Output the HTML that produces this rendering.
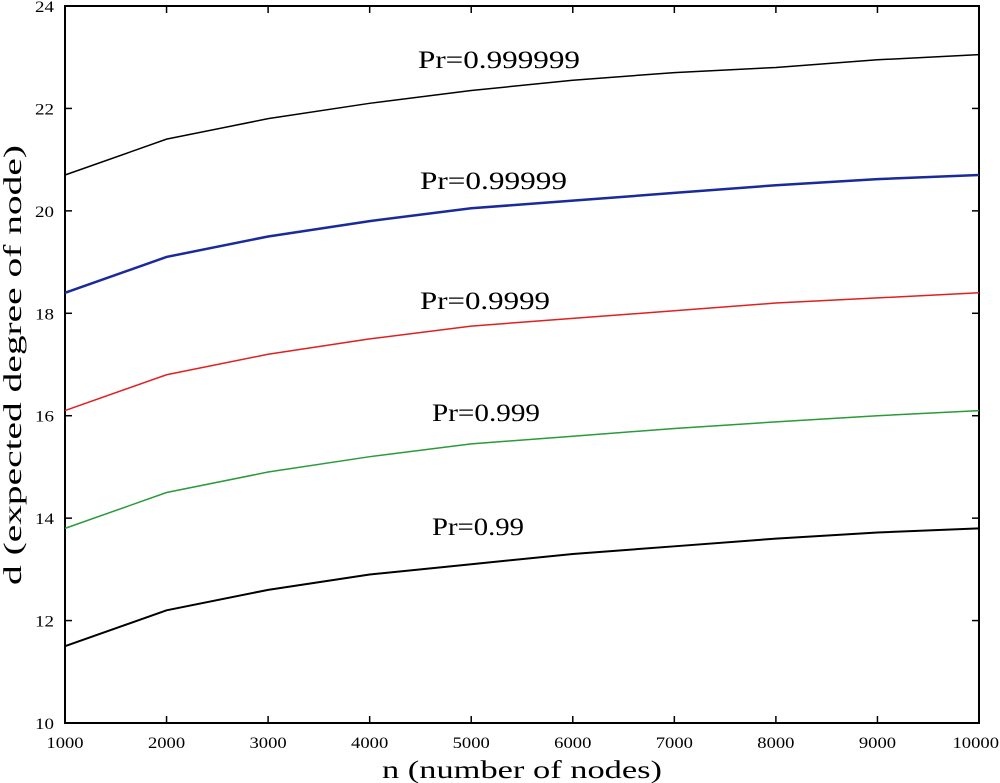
<!DOCTYPE html>
<html><head><meta charset="utf-8"><style>body{margin:0;background:#fff}svg{display:block;font-family:"Liberation Serif",serif}</style></head>
<body>
<svg id="chart" width="1000" height="783">
<rect x="65" y="6" width="914" height="717" fill="none" stroke="#000" stroke-width="2"/>
<g id="ticks"></g><g id="lines"></g><g id="labels"></g>
<text x="522" y="778" font-size="25" text-anchor="middle" textLength="280" lengthAdjust="spacingAndGlyphs">n (number of nodes)</text>
<text transform="translate(21,365) rotate(-90)" font-size="25" text-anchor="middle" textLength="440" lengthAdjust="spacingAndGlyphs">d (expected degree of node)</text>
</svg>
<script>
const xValues=[1000,2000,3000,4000,5000,6000,7000,8000,9000,10000];
const s1=[11.5,12.2,12.6,12.9,13.1,13.3,13.45,13.6,13.72,13.8];
const s2=[13.8,14.5,14.9,15.2,15.45,15.6,15.75,15.88,16.0,16.1];
const s3=[16.1,16.8,17.2,17.5,17.75,17.9,18.05,18.2,18.3,18.4];
const s4=[18.4,19.1,19.5,19.8,20.05,20.2,20.35,20.5,20.62,20.7];
const s5=[20.7,21.4,21.8,22.1,22.35,22.55,22.7,22.8,22.95,23.05];
const seriesNames=["Pr=0.99","Pr=0.999","Pr=0.9999","Pr=0.99999","Pr=0.999999"];
const xTicks=[1000,2000,3000,4000,5000,6000,7000,8000,9000,10000];
const yTicks=[10,12,14,16,18,20,22,24];
const NS="http://www.w3.org/2000/svg";
const X=v=>65+(v-1000)/9000*914, Y=v=>723-(v-10)/14*717;
function mk(t,a,p){const e=document.createElementNS(NS,t);for(const k in a)e.setAttribute(k,a[k]);p.appendChild(e);return e;}
const tg=document.getElementById('ticks');
xTicks.forEach(v=>{let x=X(v);
mk('line',{x1:x,x2:x,y1:723,y2:716,stroke:'#000','stroke-width':1.5},tg);
mk('line',{x1:x,x2:x,y1:6,y2:13,stroke:'#000','stroke-width':1.5},tg);
const len=String(v).length*9.3;
if(x+len/2>999)x=999-len/2;
const t=mk('text',{x:x,y:748,'font-size':16,'text-anchor':'middle',textLength:len,lengthAdjust:'spacingAndGlyphs'},tg);t.textContent=v;

});
yTicks.forEach(v=>{const y=Y(v);
mk('line',{x1:65,x2:72,y1:y,y2:y,stroke:'#000','stroke-width':1.5},tg);
mk('line',{x1:979,x2:972,y1:y,y2:y,stroke:'#000','stroke-width':1.5},tg);
const t=mk('text',{x:54,y:y+6,'font-size':16,'text-anchor':'end',textLength:19,lengthAdjust:'spacingAndGlyphs'},tg);t.textContent=v;

});
const series=[s1,s2,s3,s4,s5], colors=['#000','#2a9a3a','#e02020','#1a2a9a','#000'];
const widths=[2,1.5,1.5,2.5,1.5];
const lx=[432,432,420,420,418], ly=[535,421,309,189,68], lw=[92,108,130,147,162];
const lg=document.getElementById('lines'), lb=document.getElementById('labels');
series.forEach((s,i)=>{
const p=mk('polyline',{points:s.map((v,j)=>X(xValues[j])+','+Y(v)).join(' '),fill:'none',stroke:colors[i],'stroke-width':widths[i]},lg);


const t=mk('text',{x:lx[i],y:ly[i],'font-size':25,textLength:lw[i],lengthAdjust:'spacingAndGlyphs'},lb);t.textContent=seriesNames[i];

});
</script>
</body></html>
